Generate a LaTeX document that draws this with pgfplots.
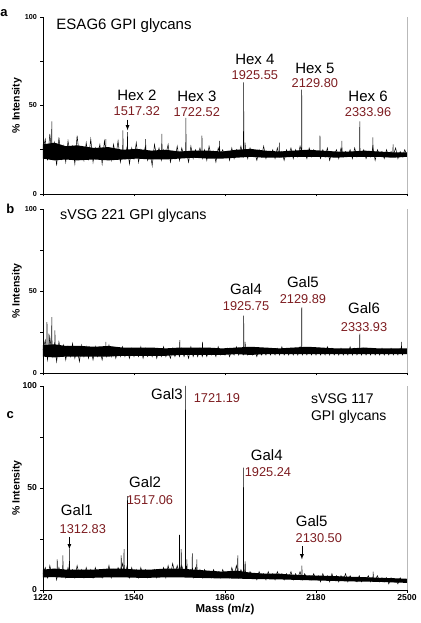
\documentclass[border=0pt]{standalone}
\usepackage{fontspec}
\setmainfont{Liberation Sans}
\usepackage{pgfplots}
\pgfplotsset{compat=1.18}
\definecolor{numred}{RGB}{125,28,32}
\pgfplotsset{
  spec/.style={
    scale only axis, width=364pt,
    xmin=1220, xmax=2500, ymin=0, ymax=100,
    axis x line*=bottom, axis y line*=left,
    axis line style={line width=0.8pt,-},
    xtick={1220,1540,1860,2180,2500},
    ytick={0,50,100}, minor ytick={25,75},
    tick align=outside, major tick length=2.5pt, minor tick length=2.5pt,
    tick style={line width=0.5pt,black},
    ylabel={\% Intensity},
    ylabel style={font=\bfseries\fontsize{10.5}{12}\selectfont, at={(axis description cs:-0.072,0.5)}, anchor=center},
    /pgf/number format/assume math mode=true,
    /pgf/number format/1000 sep={},
    clip=false,
    unbounded coords=jump,
  },
  sp/.style={black, line width=0.5pt, no marks},
  core/.style={fill=black, draw=none, no marks},
}
\tikzset{
  hl/.style={font=\fontsize{15}{16}\selectfont},
  nl/.style={font=\fontsize{12.8}{13.5}\selectfont, text=numred},
}
\begin{document}
\begin{tikzpicture}
\path[use as bounding box] (-43pt,-33pt) rectangle (377pt,590pt);
% ---------------- panel a
\begin{axis}[spec, at={(0pt,396pt)}, height=177pt,
  xticklabels={}, yticklabel style={font=\bfseries\fontsize{7.2}{8}\selectfont}]
\addplot[core] coordinates {
(1220,28)(1260,29)(1300,27)(1340,27.5)(1400,26)(1450,26.5)(1500,25)(1550,25.5)(1600,24.5)(1650,25)(1700,24)(1750,24.5)(1800,24.5)(1850,24)(1900,25)(1950,25.5)(2000,24.5)(2050,24)(2100,24.5)(2150,25)(2200,24.5)(2250,24)(2300,24)(2350,24.5)(2400,24)(2450,23.5)(2500,23.5)
(2500,21)(2450,20.5)(2400,21)(2350,21)(2300,21)(2250,20.5)(2200,21)(2150,21)(2100,21)(2050,20.5)(2000,20.5)(1950,21)(1900,20.5)(1850,20)(1800,20)(1750,20.5)(1700,20)(1650,19.5)(1600,19.5)(1550,20)(1500,19.5)(1450,19)(1400,19.5)(1340,19)(1300,19.5)(1260,19)(1220,20)
};
\addplot[sp] coordinates {
(1220,25)(1228,31)(1236,19)(1244,34)(1252,21)(1260,29)(1268,16)(1276,32)(1284,20)(1292,27)
(1300,18)(1308,30)(1316,22)(1324,27)(1332,17)(1340,33)(1348,21)(1356,26)(1364,19)(1372,29)
(1380,20)(1388,31)(1396,18)(1404,26)(1412,22)(1420,28)(1428,17)(1436,30)(1444,21)(1452,25)
(1460,19)(1468,28)(1476,21)(1484,30)(1492,18)(1500,24)(1508,20)(1516,27)(1524,17)(1532,26)
(1540,20)(1548,29)(1556,18)(1564,25)(1572,21)(1580,27)(1588,19)(1596,24)(1604,16)(1612,28)
(1620,21)(1628,26)(1636,19)(1644,25)(1652,22)(1660,28)(1668,18)(1676,24)(1684,20)(1692,27)
(1700,19)(1708,26)(1716,21)(1724,24)(1732,18)(1740,27)(1748,20)(1756,25)(1764,22)(1772,26)
(1780,20)(1788,25)(1796,19)(1804,27)(1812,21)(1820,24)(1828,18)(1836,26)(1844,22)(1852,25)
(1860,21)(1868,24)(1876,19)(1884,26)(1892,20)(1900,25)(1908,22)(1916,27)(1924,21)(1932,25)
(1940,20)(1948,26)(1956,22)(1964,24)(1972,19)(1980,25)(1988,21)(1996,27)(2004,20)(2012,24)
(2020,22)(2028,25)(2036,20)(2044,26)(2052,21)(2060,24)(2068,19)(2076,25)(2084,22)(2092,26)
(2100,20)(2108,25)(2116,21)(2124,27)(2132,22)(2140,24)(2148,20)(2156,26)(2164,21)(2172,25)
(2180,22)(2188,24)(2196,20)(2204,25)(2212,21)(2220,26)(2228,19)(2236,24)(2244,22)(2252,25)
(2260,20)(2268,26)(2276,21)(2284,24)(2292,22)(2300,25)(2308,20)(2316,26)(2324,21)(2332,24)
(2340,22)(2348,25)(2356,20)(2364,24)(2372,21)(2380,26)(2388,19)(2396,25)(2404,22)(2412,24)
(2420,20)(2428,25)(2436,21)(2444,24)(2452,22)(2460,26)(2468,20)(2476,24)(2484,21)(2492,25)
(2500,22)
};
\addplot[sp] coordinates {
(1250,22)(1251,41)(1252,22)(1253,nan)
(1440,21)(1441,31)(1442,21)(1443,nan)
(1500,21)(1501,36)(1502,21)(1503,nan)
(1516.5,22)(1517.3,35)(1518.1,22)(1519,nan)
(1580,21)(1581,31)(1582,21)(1583,nan)
(1637,21)(1638,34)(1639,21)(1640,nan)
(1721.7,22)(1722.5,43)(1723.3,22)(1724,nan)
(1778,21)(1779,33)(1780,21)(1781,nan)
(1840,21)(1841,30)(1842,21)(1843,nan)
(1924.8,23)(1925.6,63)(1926.4,23)(1927,nan)
(1930,22)(1931,29)(1932,22)(1933,nan)
(2050,21)(2051,29)(2052,21)(2053,nan)
(2128.9,22)(2129.8,59)(2130.7,22)(2131,nan)
(2193,22)(2194,33)(2195,22)(2196,nan)
(2270,21)(2271,30)(2272,21)(2273,nan)
(2333,22)(2334,41)(2334.9,22)(2335,nan)
(2379,22)(2380,32)(2381,22)(2382,nan)
(2450,21)(2451,28)(2452,21)
};
\draw[gray!55, line width=0.5pt] (axis cs:2500,0) -- (axis cs:2500,100);
\draw[-latex, line width=0.8pt] (axis cs:1517.3,42) -- (axis cs:1517.3,36);
\node[font=\bfseries\fontsize{13}{14}\selectfont] at (rel axis cs:-0.107,1.023) {a};
\node[anchor=west, font=\fontsize{15}{16}\selectfont] at (axis cs:1255,95) {ESAG6 GPI glycans};
\node[hl] at (axis cs:1550,56) {Hex 2};
\node[nl] at (axis cs:1550,47) {1517.32};
\node[hl] at (axis cs:1761,55) {Hex 3};
\node[nl] at (axis cs:1761,46) {1722.52};
\node[hl] at (axis cs:1965,76) {Hex 4};
\node[nl] at (axis cs:1965,67) {1925.55};
\node[hl] at (axis cs:2176,71) {Hex 5};
\node[nl] at (axis cs:2176,62.5) {2129.80};
\node[hl] at (axis cs:2363,55) {Hex 6};
\node[nl] at (axis cs:2363,46) {2333.96};
\end{axis}
% ---------------- panel b
\begin{axis}[spec, at={(0pt,217pt)}, height=164pt,
  xticklabels={}, yticklabel style={font=\bfseries\fontsize{7.2}{8}\selectfont}]
\addplot[core] coordinates {
(1220,17)(1260,17.5)(1300,16.5)(1350,16.5)(1400,16)(1450,16.5)(1500,15.5)(1550,15.5)(1600,15.5)(1650,15)(1700,15.5)(1750,15.5)(1800,15.5)(1850,15)(1900,15.5)(1950,16)(2000,15.5)(2050,15)(2100,15.5)(2150,16)(2200,15.5)(2250,15)(2300,15)(2350,15.5)(2400,15)(2450,15)(2500,15)
(2500,11.5)(2450,11.5)(2400,11.5)(2350,11.5)(2300,11.5)(2250,11.5)(2200,11.5)(2150,11.5)(2100,11.5)(2050,11.5)(2000,11.5)(1950,11)(1900,11.5)(1850,11)(1800,11)(1750,11)(1700,11)(1650,10.5)(1600,10.5)(1550,10.5)(1500,10.5)(1450,10)(1400,10)(1350,10)(1300,10)(1260,9.5)(1220,10)
};
\addplot[sp] coordinates {
(1220,14)(1228,20)(1236,8)(1244,22)(1252,10)(1260,18)(1268,7)(1276,19)(1284,11)(1292,17)
(1300,8)(1308,16)(1316,10)(1324,18)(1332,9)(1340,15)(1348,7)(1356,17)(1364,10)(1372,16)
(1380,9)(1388,15)(1396,8)(1404,16)(1412,10)(1420,14)(1428,8)(1436,15)(1444,10)(1452,17)
(1460,10)(1468,15)(1476,9)(1484,14)(1492,10)(1500,16)(1508,10)(1516,14)(1524,9)(1532,15)
(1540,10)(1548,14)(1556,10)(1564,16)(1572,9)(1580,15)(1588,10)(1596,13)(1604,10)(1612,15)
(1620,9)(1628,14)(1636,10)(1644,16)(1652,10)(1660,13)(1668,9)(1676,15)(1684,10)(1692,14)
(1700,10)(1708,15)(1716,10)(1724,14)(1732,9)(1740,16)(1748,10)(1756,14)(1764,10)(1772,15)
(1780,10)(1788,14)(1796,10)(1804,15)(1812,11)(1820,14)(1828,10)(1836,16)(1844,11)(1852,14)
(1860,11)(1868,15)(1876,10)(1884,14)(1892,11)(1900,16)(1908,11)(1916,15)(1924,11)(1932,14)
(1940,11)(1948,15)(1956,11)(1964,14)(1972,10)(1980,15)(1988,11)(1996,14)(2004,11)(2012,15)
(2020,11)(2028,14)(2036,11)(2044,15)(2052,11)(2060,16)(2068,11)(2076,14)(2084,11)(2092,15)
(2100,11)(2108,15)(2116,11)(2124,16)(2132,11)(2140,14)(2148,11)(2156,15)(2164,11)(2172,14)
(2180,11)(2188,15)(2196,11)(2204,14)(2212,11)(2220,16)(2228,11)(2236,15)(2244,11)(2252,14)
(2260,11)(2268,15)(2276,11)(2284,14)(2292,11)(2300,16)(2308,11)(2316,15)(2324,11)(2332,14)
(2340,11)(2348,15)(2356,11)(2364,14)(2372,11)(2380,15)(2388,11)(2396,14)(2404,11)(2412,15)
(2420,11)(2428,14)(2436,11)(2444,15)(2452,11)(2460,14)(2468,11)(2476,15)(2484,11)(2492,14)
(2500,13)
};
\addplot[sp] coordinates {
(1233,12)(1234,31)(1235,12)(1236,nan)
(1240,12)(1241,24)(1242,12)(1243,nan)
(1250,12)(1251,34)(1252,12)(1253,nan)
(1261,12)(1262,26)(1263,12)(1264,nan)
(1440,11)(1441,19)(1442,11)(1443,nan)
(1700,11)(1701,20)(1702,11)(1703,nan)
(1780,11)(1781,19)(1782,11)(1783,nan)
(1924.9,12)(1925.75,35)(1926.6,12)(1927,nan)
(1930,12)(1931,19)(1932,12)(1933,nan)
(2129,12)(2129.9,40)(2130.8,12)(2131,nan)
(2333,12)(2333.9,24)(2334.8,12)(2335,nan)
(2480,12)(2481,19)(2482,12)
};
\draw[gray!55, line width=0.5pt] (axis cs:2500,0) -- (axis cs:2500,100);
\node[font=\bfseries\fontsize{13}{14}\selectfont] at (rel axis cs:-0.09,1.0) {b};
\node[anchor=west, font=\fontsize{14.3}{15}\selectfont] at (axis cs:1268,96) {sVSG 221 GPI glycans};
\node[hl] at (axis cs:1934,51) {Gal4};
\node[nl] at (axis cs:1934,40.5) {1925.75};
\node[hl] at (axis cs:2134,55.5) {Gal5};
\node[nl] at (axis cs:2134,45) {2129.89};
\node[hl] at (axis cs:2349,39.5) {Gal6};
\node[nl] at (axis cs:2349,28) {2333.93};
\end{axis}
% ---------------- panel c
\begin{axis}[spec, at={(0pt,0pt)}, height=204pt,
  xlabel={Mass (m/z)},
  xlabel style={font=\bfseries\fontsize{11.5}{13}\selectfont, at={(axis description cs:0.5,-0.094)}, anchor=center},
  ticklabel style={font=\bfseries\fontsize{8.6}{9.5}\selectfont},
  xticklabel style={yshift=2pt}]
\addplot[core] coordinates {
(1220,10)(1260,10.5)(1300,10)(1350,10)(1400,10)(1450,10.5)(1500,10.5)(1550,10)(1600,10)(1650,10.5)(1700,10.5)(1750,10)(1800,9.5)(1850,9)(1900,9.5)(1950,8.5)(2000,8)(2050,8)(2100,7.5)(2150,7.2)(2200,7)(2250,6.8)(2300,6.5)(2350,6.3)(2400,6)(2450,5.8)(2500,5.5)
(2500,3.5)(2450,3.7)(2400,4)(2350,4.1)(2300,4.2)(2250,4.4)(2200,4.6)(2150,4.8)(2100,5)(2050,5.2)(2000,5.3)(1950,5.4)(1900,5.6)(1850,5.7)(1800,5.8)(1750,6)(1700,6.2)(1650,6.2)(1600,6)(1550,6)(1500,6.2)(1450,6.2)(1400,6)(1350,6)(1300,6)(1260,6.3)(1220,6.2)
};
\addplot[sp] coordinates {
(1220,8)(1228,11)(1236,6)(1244,12)(1252,7)(1260,10)(1268,5)(1276,11)(1284,7)(1292,10)
(1300,6)(1308,11)(1316,7)(1324,10)(1332,6)(1340,12)(1348,7)(1356,10)(1364,6)(1372,11)
(1380,7)(1388,10)(1396,6)(1404,11)(1412,7)(1420,9)(1428,6)(1436,10)(1444,7)(1452,12)
(1460,6)(1468,10)(1476,7)(1484,11)(1492,8)(1500,13)(1508,7)(1516,12)(1524,6)(1532,11)
(1540,7)(1548,10)(1556,6)(1564,11)(1572,7)(1580,10)(1588,6)(1596,9)(1604,7)(1612,10)
(1620,6)(1628,10)(1636,7)(1644,11)(1652,6)(1660,12)(1668,7)(1676,13)(1684,8)(1692,12)
(1700,7)(1708,12)(1716,8)(1724,11)(1732,7)(1740,10)(1748,6)(1756,11)(1764,7)(1772,10)
(1780,6)(1788,10)(1796,7)(1804,9)(1812,6)(1820,10)(1828,7)(1836,9)(1844,6)(1852,10)
(1860,7)(1868,9)(1876,6)(1884,11)(1892,7)(1900,12)(1908,6)(1916,10)(1924,7)(1932,9)
(1940,6)(1948,9)(1956,7)(1964,8)(1972,5)(1980,9)(1988,6)(1996,8)(2004,5)(2012,9)
(2020,6)(2028,8)(2036,5)(2044,9)(2052,6)(2060,8)(2068,5)(2076,8)(2084,6)(2092,9)
(2100,5)(2108,8)(2116,6)(2124,9)(2132,5)(2140,8)(2148,6)(2156,7)(2164,5)(2172,8)
(2180,5)(2188,7)(2196,4)(2204,8)(2212,5)(2220,7)(2228,4)(2236,8)(2244,5)(2252,7)
(2260,4)(2268,7)(2276,5)(2284,8)(2292,4)(2300,7)(2308,5)(2316,6)(2324,4)(2332,7)
(2340,4)(2348,6)(2356,5)(2364,7)(2372,4)(2380,6)(2388,5)(2396,7)(2404,4)(2412,6)
(2420,4)(2428,6)(2436,3)(2444,6)(2452,4)(2460,5)(2468,3)(2476,6)(2484,4)(2492,5)
(2500,4)
};
\addplot[sp] coordinates {
(1269,8)(1270,15)(1271,8)(1272,nan)
(1289,8)(1290,17)(1291,8)(1292,nan)
(1312,8)(1312.8,20)(1313.6,8)(1314,nan)
(1494,9)(1495,17)(1496,9)(1497,nan)
(1504,9)(1505,20)(1506,9)(1507,nan)
(1516.3,9)(1517.1,46)(1517.9,9)(1518.5,nan)
(1699,9)(1700,27)(1701,9)(1702,nan)
(1705,9)(1706,20)(1707,9)(1708,nan)
(1720.4,9)(1721.2,100)(1722,9)(1722.5,nan)
(1725,9)(1726,15)(1727,9)(1728,nan)
(1744,8)(1745,18)(1746,8)(1747,nan)
(1760,8)(1761,15)(1762,8)(1763,nan)
(1904,8)(1905,17)(1906,8)(1907,nan)
(1924.4,8)(1925.2,60)(1926,8)(1926.5,nan)
(1930,8)(1931,14)(1932,8)(1933,nan)
(2129.7,6)(2130.5,12)(2131.3,6)(2132,nan)
(2380,5)(2381,9)(2382,5)
};
\draw[gray!55, line width=0.5pt] (axis cs:2500,0) -- (axis cs:2500,100);
\draw[-latex, line width=0.8pt] (axis cs:1312.8,26) -- (axis cs:1312.8,20);
\draw[-latex, line width=0.8pt] (axis cs:2130.5,21.5) -- (axis cs:2130.5,15);
\node[font=\bfseries\fontsize{13}{14}\selectfont] at (rel axis cs:-0.09,0.858) {c};
\node[anchor=west, font=\fontsize{14}{15}\selectfont] at (axis cs:2150,93.6) {sVSG 117};
\node[anchor=west, font=\fontsize{14}{15}\selectfont] at (axis cs:2150,85) {GPI glycans};
\node[hl] at (axis cs:1656,96) {Gal3};
\node[nl, anchor=west] at (axis cs:1738,94) {1721.19};
\node[hl] at (axis cs:2007,66) {Gal4};
\node[nl] at (axis cs:2011,58) {1925.24};
\node[hl] at (axis cs:1579,53) {Gal2};
\node[nl] at (axis cs:1596,44) {1517.06};
\node[hl] at (axis cs:1339,39) {Gal1};
\node[nl] at (axis cs:1360,30) {1312.83};
\node[hl] at (axis cs:2165,34) {Gal5};
\node[nl] at (axis cs:2190,25.5) {2130.50};
\end{axis}
\end{tikzpicture}
\end{document}
